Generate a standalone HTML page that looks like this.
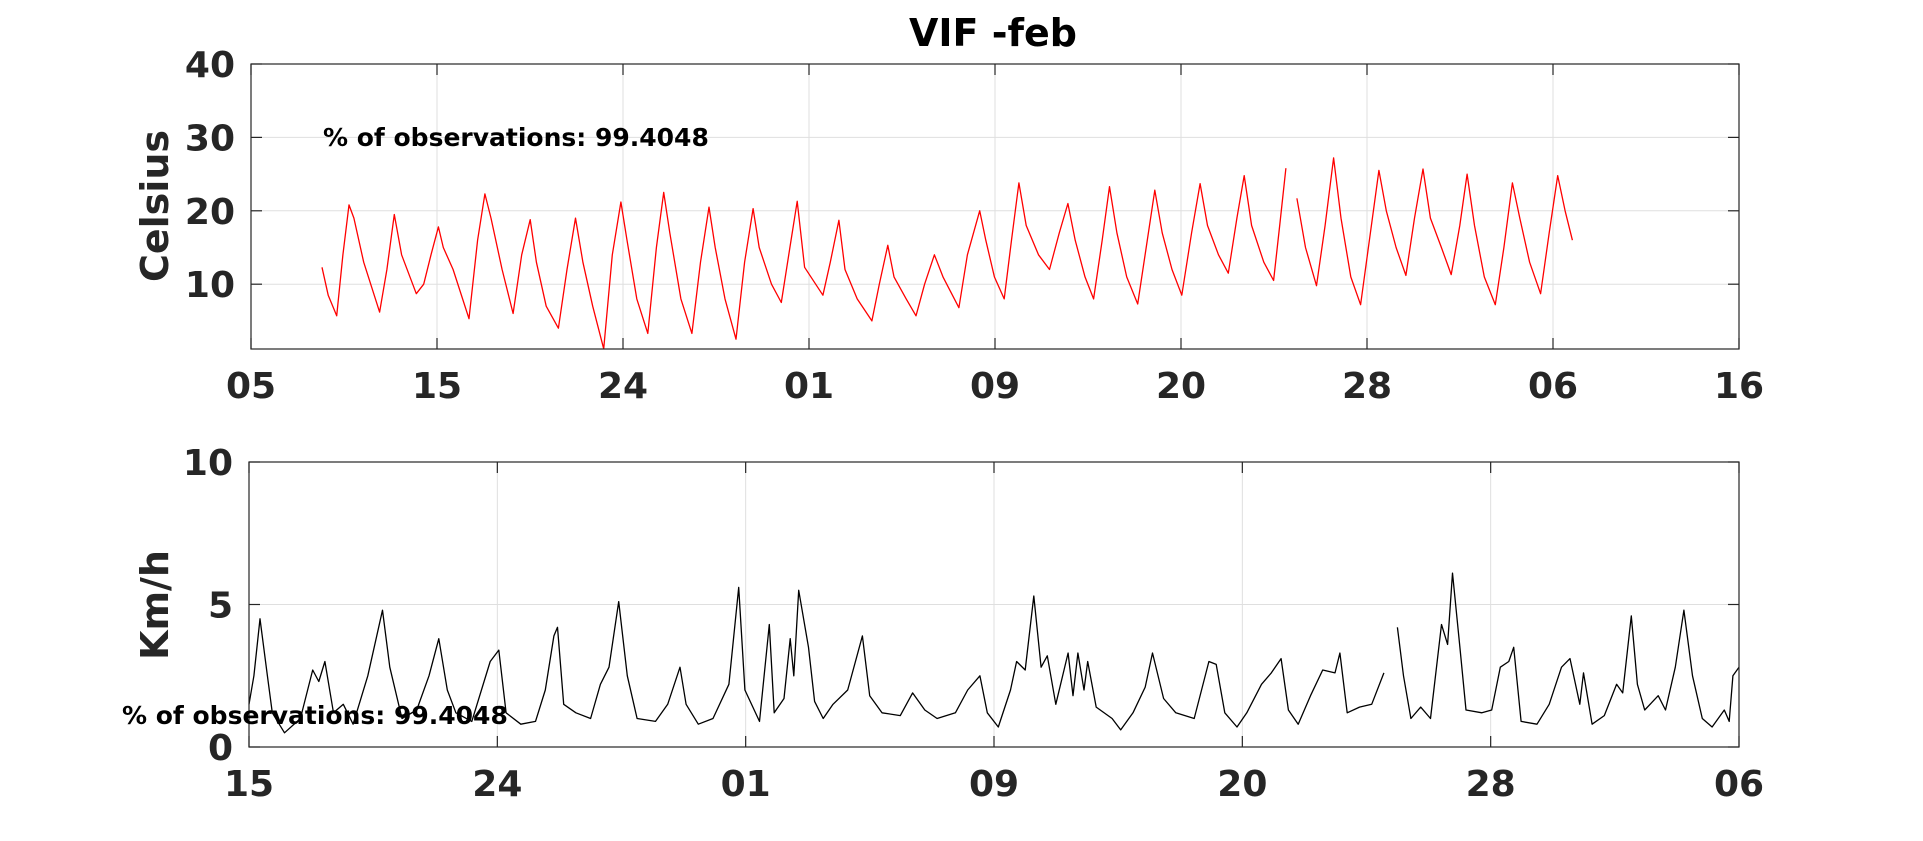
<!DOCTYPE html>
<html><head><meta charset="utf-8"><style>
html,body{margin:0;padding:0;background:#fff;}
svg{display:block;font-family:"DejaVu Sans","Liberation Sans",sans-serif;}
</style></head><body>
<svg id="fig" width="1923" height="841" viewBox="0 0 1923 841" xmlns="http://www.w3.org/2000/svg">
<text x="993" y="46" text-anchor="middle" font-size="38" font-weight="bold" fill="#000">VIF -feb</text>
<g id="top"></g>
<g id="bot"></g>
</svg>
<script>
// Temperature series (time in plot units, °C)
const tempTimes = [263,268,275,280,285,289,297,310,316,322,328,340,346,352,358,362,370,383,390,396,401,410,419,426,433,438,446,456,463,470,476,484,493,500,507,512,520,529,536,542,547,556,565,572,579,584,592,601,608,615,620,630,638,645,651,657,672,678,685,690,700,712,718,725,730,740,748,755,763,770,783,790,800,805,812,820,826,832,838,848,857,865,872,878,886,893,900,906,912,920,929,936,943,949,957,965,973,980,986,995,1003,1010,1016,1022,1032,1040,1045,1050,null,1059,1066,1075,1082,1089,1095,1103,1111,1119,1126,1132,1140,1148,1155,1162,1168,1177,1185,1192,1198,1204,1212,1221,1228,1235,1241,1249,1258,1265,1272,1278,1284];
const tempValues = [12.3,8.5,5.7,14,20.8,19,13,6.2,12,19.5,14,8.7,10,14,17.8,15,12,5.3,16,22.3,19,12,6.0,14,18.8,13,7,4.0,12,19.0,13,7,1.2,14,21.2,16,8,3.3,15,22.5,17,8,3.3,13,20.5,15,8,2.5,13,20.3,15,10,7.5,15,21.3,12.3,8.5,13,18.7,12,8,5.0,10,15.3,11,8,5.7,10,14.0,11,6.8,14,20.0,16,11,8.0,16,23.8,18,14,12.0,17,21.0,16,11,8.0,16,23.3,17,11,7.3,15,22.8,17,12,8.5,17,23.7,18,14,11.5,19,24.8,18,13,10.5,18,25.8,null,21.7,15,9.8,18,27.2,19,11,7.2,17,25.5,20,15,11.2,19,25.7,19,15,11.3,18,25.0,18,11,7.2,15,23.8,19,13,8.7,17,24.8,20,16.0];
const tempTickLabels = ["05","15","24","01","09","20","28","06","16"];
const tempYTicks = [10,20,30,40];
// Wind series (time in plot units, km/h)
const windTimes = [203,207,212,218,222,232,245,255,260,265,272,280,288,300,312,318,328,340,350,358,365,372,385,400,407,413,425,437,445,452,455,460,470,482,490,497,505,512,520,535,545,555,560,570,582,595,603,608,620,628,632,640,645,648,652,660,665,672,680,692,704,710,720,735,745,755,765,780,790,800,806,815,825,830,837,844,850,855,862,872,876,880,885,888,895,908,915,925,935,941,950,960,975,987,993,1000,1010,1018,1030,1038,1046,1052,1060,1070,1080,1090,1094,1100,1110,1120,1130,null,1141,1146,1152,1160,1168,1177,1182,1186,1192,1197,1210,1218,1225,1232,1236,1242,1255,1265,1275,1282,1290,1293,1300,1310,1320,1325,1332,1337,1343,1354,1360,1368,1375,1382,1390,1398,1408,1412,1415,1420];
const windValues = [1.5,2.5,4.5,2.5,1.2,0.5,1.0,2.7,2.3,3.0,1.2,1.5,0.8,2.5,4.8,2.8,1.0,1.3,2.5,3.8,2.0,1.2,0.9,3.0,3.4,1.2,0.8,0.9,2.0,3.9,4.2,1.5,1.2,1.0,2.2,2.8,5.1,2.5,1.0,0.9,1.5,2.8,1.5,0.8,1.0,2.2,5.6,2.0,0.9,4.3,1.2,1.7,3.8,2.5,5.5,3.5,1.6,1.0,1.5,2.0,3.9,1.8,1.2,1.1,1.9,1.3,1.0,1.2,2.0,2.5,1.2,0.7,2.0,3.0,2.7,5.3,2.8,3.2,1.5,3.3,1.8,3.3,2.0,3.0,1.4,1.0,0.6,1.2,2.1,3.3,1.7,1.2,1.0,3.0,2.9,1.2,0.7,1.2,2.2,2.6,3.1,1.3,0.8,1.8,2.7,2.6,3.3,1.2,1.4,1.5,2.6,null,4.2,2.5,1.0,1.4,1.0,4.3,3.6,6.1,3.5,1.3,1.2,1.3,2.8,3.0,3.5,0.9,0.8,1.5,2.8,3.1,1.5,2.6,0.8,1.1,2.2,1.9,4.6,2.2,1.3,1.8,1.3,2.8,4.8,2.5,1.0,0.7,1.3,0.9,2.5,2.8];
const windTickLabels = ["15","24","01","09","20","28","06"];
const windYTicks = [0,5,10];

const NS="http://www.w3.org/2000/svg";
function mk(tag,attrs,parent){const e=document.createElementNS(NS,tag);for(const k in attrs)e.setAttribute(k,attrs[k]);parent.appendChild(e);return e;}

function panel(g,box,xDom,yDom,xLabels,yTicks,times,vals,color,ylabel,ann){
  const sx=v=>box.l+(v-xDom[0])/(xDom[1]-xDom[0])*(box.r-box.l);
  const sy=v=>box.b-(v-yDom[0])/(yDom[1]-yDom[0])*(box.b-box.t);
  xLabels.forEach((lab,i)=>{
    const x=box.l+i*(box.r-box.l)/(xLabels.length-1);
    const gl=mk('line',{x1:x,x2:x,y1:box.t,y2:box.b,stroke:'#dfdfdf','stroke-width':1},g);
    
    
    mk('line',{x1:x,x2:x,y1:box.b,y2:box.b-11,stroke:'#262626','stroke-width':1.2},g);
    mk('line',{x1:x,x2:x,y1:box.t,y2:box.t+11,stroke:'#262626','stroke-width':1.2},g);
    const t=mk('text',{x:x,y:box.b+49,'text-anchor':'middle','font-size':36,'font-weight':'bold',fill:'#262626'},g);
    t.textContent=lab;
    
    
  });
  yTicks.forEach(v=>{
    const y=sy(v);
    if(y>box.t+1&&y<box.b-1){
      const gl=mk('line',{x1:box.l,x2:box.r,y1:y,y2:y,stroke:'#dfdfdf','stroke-width':1},g);
      
      
    }
    mk('line',{x1:box.l,x2:box.l+11,y1:y,y2:y,stroke:'#262626','stroke-width':1.2},g);
    mk('line',{x1:box.r,x2:box.r-11,y1:y,y2:y,stroke:'#262626','stroke-width':1.2},g);
    const t=mk('text',{x:box.l-16,y:y+13,'text-anchor':'end','font-size':36,'font-weight':'bold',fill:'#262626'},g);
    t.textContent=String(v);
    
    
  });
  let d='',pen=false;
  for(let i=0;i<times.length;i++){
    if(times[i]===null||vals[i]===null){pen=false;continue;}
    d+=(pen?'L':'M')+sx(times[i]).toFixed(1)+','+sy(vals[i]).toFixed(1);pen=true;
  }
  const p=mk('path',{d:d,fill:'none',stroke:color,'stroke-width':1.3,'stroke-linejoin':'round'},g);
  
  
  const r=mk('rect',{x:box.l,y:box.t,width:box.r-box.l,height:box.b-box.t,fill:'none',stroke:'#262626','stroke-width':1.2},g);
  
  
  const yl=mk('text',{x:0,y:0,'text-anchor':'middle','font-size':38,'font-weight':'bold',fill:'#262626',transform:`translate(${ylabel.x},${ylabel.y}) rotate(-90)`},g);
  yl.textContent=ylabel.text;
  
  
  const a=mk('text',{x:ann.x,y:ann.y,'font-size':25,'font-weight':'bold',fill:'#000'},g);
  a.textContent='% of observations: 99.4048';
  
  
}
panel(document.getElementById('top'),{l:251,r:1739,t:64,b:349},[205,1420],[1.17,40],tempTickLabels,tempYTicks,tempTimes,tempValues,'#ff0000',{text:'Celsius',x:168,y:206},{x:323,y:146});
panel(document.getElementById('bot'),{l:249,r:1739,t:462,b:747},[203,1420],[0,10],windTickLabels,windYTicks,windTimes,windValues,'#000000',{text:'Km/h',x:168,y:605},{x:122,y:724});
</script>
</body></html>
